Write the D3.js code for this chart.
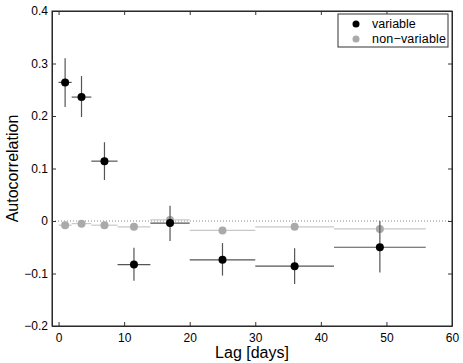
<!DOCTYPE html>
<html>
<head>
<meta charset="utf-8">
<script src="https://cdn.jsdelivr.net/npm/d3@7"></script>
<style>
  body { margin: 0; background: #fff; }
  text { font-family: "Liberation Sans", Arial, sans-serif; fill: #000; }
</style>
</head>
<body>
<div id="viz"></div>
<script>
// lag centres and bin edges (days)
var lag = [1, 3.5, 7, 11.5, 17, 25, 36, 49];
var lagLo = [0, 2, 5, 9, 14, 20, 30, 42];
var lagHi = [2, 5, 9, 14, 20, 30, 42, 56];

// variable sources
var varY = [0.264, 0.236, 0.114, -0.083, -0.004, -0.074, -0.086, -0.050];
var varLo = [0.217, 0.198, 0.078, -0.114, -0.038, -0.104, -0.120, -0.098];
var varHi = [0.310, 0.276, 0.150, -0.051, 0.029, -0.042, -0.052, 0.000];

// non-variable sources
var nonY = [-0.008, -0.005, -0.008, -0.011, 0.002, -0.018, -0.011, -0.015];
var nonLo = [-0.011, -0.008, -0.011, -0.014, -0.001, -0.021, -0.014, -0.018];
var nonHi = [-0.005, -0.002, -0.005, -0.008, 0.005, -0.015, -0.008, -0.012];

var xTicks = [0, 10, 20, 30, 40, 50, 60];
var yTicks = [-0.2, -0.1, 0, 0.1, 0.2, 0.3, 0.4];

function draw() {
  let W = 463, H = 363;
  let left = 52, right = 452, top = 11, bottom = 326;

  let svg = d3.select('#viz').append('svg')
    .attr('width', W)
    .attr('height', H);

  let x = d3.scaleLinear().domain([-1, 60]).range([left, right]);
  let y = d3.scaleLinear().domain([-0.2, 0.4]).range([bottom, top]);

  // zero line
  svg.append('line')
    .attr('x1', left).attr('x2', right)
    .attr('y1', y(0)).attr('y2', y(0))
    .attr('stroke', '#888')
    .attr('stroke-width', 1)
    .attr('stroke-dasharray', '1,2');

  let fmt = (d) => d === 0 ? '0' : d3.format('.1f')(d).replace('-', '\u2212');

  // axes, ticks pointing inward like matlab
  svg.append('g')
    .attr('transform', `translate(0, ${bottom})`)
    .call(d3.axisBottom(x).tickValues(xTicks).tickSizeInner(-4).tickSizeOuter(0).tickPadding(7))
    .call(g => g.selectAll('text').attr('font-size', 12));

  svg.append('g')
    .attr('transform', `translate(0, ${top})`)
    .call(d3.axisTop(x).tickValues(xTicks).tickSizeInner(-4).tickSizeOuter(0).tickFormat(''));

  svg.append('g')
    .attr('transform', `translate(${left}, 0)`)
    .call(d3.axisLeft(y).tickValues(yTicks).tickSizeInner(-4).tickSizeOuter(0).tickPadding(4).tickFormat(fmt))
    .call(g => g.selectAll('text').attr('font-size', 12));

  svg.append('g')
    .attr('transform', `translate(${right}, 0)`)
    .call(d3.axisRight(y).tickValues(yTicks).tickSizeInner(-4).tickSizeOuter(0).tickFormat(''));

  svg.selectAll('.domain').attr('stroke', '#333');
  svg.selectAll('.tick line').attr('stroke', '#333');

  // box
  svg.append('rect')
    .attr('x', left).attr('y', top)
    .attr('width', right - left).attr('height', bottom - top)
    .attr('fill', 'none')
    .attr('stroke', '#222');

  function series(yv, lo, hi, barColor, dotColor) {
    let g = svg.append('g');
    lag.forEach((d, i) => {
      g.append('line')
        .attr('x1', x(lagLo[i])).attr('x2', x(lagHi[i]))
        .attr('y1', y(yv[i])).attr('y2', y(yv[i]))
        .attr('stroke', barColor).attr('stroke-width', 1.2);
      g.append('line')
        .attr('x1', x(d)).attr('x2', x(d))
        .attr('y1', y(lo[i])).attr('y2', y(hi[i]))
        .attr('stroke', barColor).attr('stroke-width', 1.2);
    });
    g.selectAll('circle')
      .data(lag)
      .enter()
      .append('circle')
      .attr('cx', (d) => x(d))
      .attr('cy', (d, i) => y(yv[i]))
      .attr('r', 4)
      .attr('fill', dotColor);
  }

  series(nonY, nonLo, nonHi, '#c8c8c8', '#aaaaaa');
  series(varY, varLo, varHi, '#555555', '#000000');

  // legend
  let lg = svg.append('g');
  lg.append('rect')
    .attr('x', 338).attr('y', 14)
    .attr('width', 110).attr('height', 33)
    .attr('fill', '#fff')
    .attr('stroke', '#333');
  let names = ['variable', 'non\u2212variable'];
  let cols = ['#000000', '#aaaaaa'];
  names.forEach((n, i) => {
    lg.append('circle')
      .attr('cx', 356).attr('cy', 24 + i * 15)
      .attr('r', 3.5).attr('fill', cols[i]);
    lg.append('text')
      .attr('x', 372).attr('y', 28 + i * 15)
      .attr('font-size', 12.5)
      .attr('textLength', i === 1 ? 74 : null)
      .text(n);
  });

  // axis labels
  svg.append('text')
    .attr('x', (left + right) / 2)
    .attr('y', 358)
    .attr('text-anchor', 'middle')
    .attr('font-size', 16)
    .text('Lag [days]');

  svg.append('text')
    .attr('transform', `translate(18, ${(top + bottom) / 2}) rotate(-90)`)
    .attr('text-anchor', 'middle')
    .attr('font-size', 16)
    .text('Autocorrelation');
}

draw();
</script>
</body>
</html>
